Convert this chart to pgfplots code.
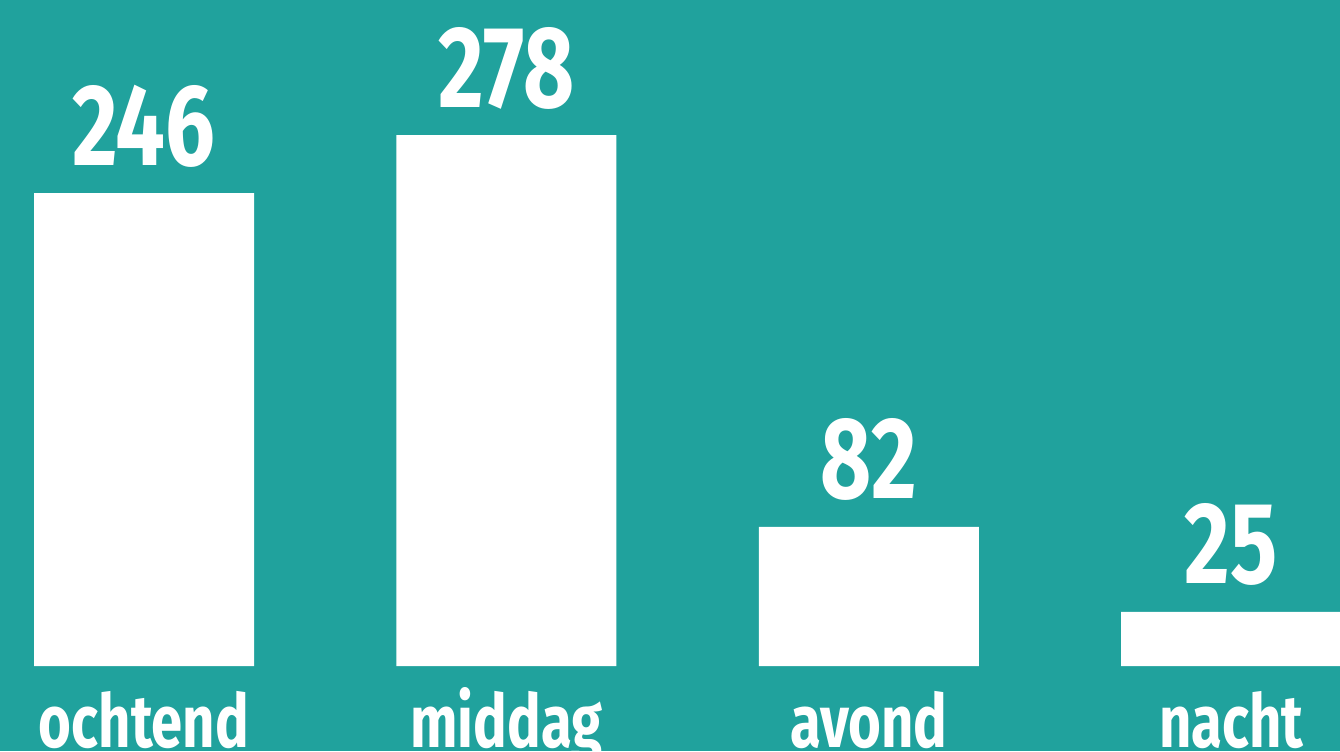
\documentclass[border=0pt]{standalone}
\usepackage{pgfplots}
\pgfplotsset{compat=1.18}
\usepackage{fontspec}
\setmainfont{Fira Sans}[FakeStretch=0.76]
\definecolor{bg}{RGB}{32,162,157}
\begin{document}
\begin{tikzpicture}
\useasboundingbox (0,0) rectangle (670pt,375.5pt);
\clip (0,0) rectangle (670pt,375.5pt);
\fill[bg] (0,0) rectangle (670pt,375.5pt);
\begin{axis}[at={(0,0)}, anchor=south west, scale only axis,
  width=670pt, height=375.5pt,
  xmin=-0.3974, xmax=3.3002, ymin=-44.5, ymax=348.7,
  axis line style={draw=none}, major tick length=0pt, ytick=\empty,
  xtick={0,1,2,3}, xticklabels={ochtend,middag,avond,nacht},
  xticklabel style={font=\fontsize{37}{37}\selectfont\bfseries, text=white, anchor=base, inner sep=0pt, yshift=2pt},
  ybar, bar width=0.607,
  nodes near coords, point meta=explicit symbolic,
  every node near coord/.append style={font=\fontsize{58}{58}\selectfont\bfseries, text=white, anchor=base, inner sep=0pt, yshift=14pt},
]
\addplot[fill=white, draw=none] table[meta=label]{
x y label
0 247.6 246
1 278.0 278
2 72.8 82
3 28.3 25
};
\end{axis}
\end{tikzpicture}
\end{document}
